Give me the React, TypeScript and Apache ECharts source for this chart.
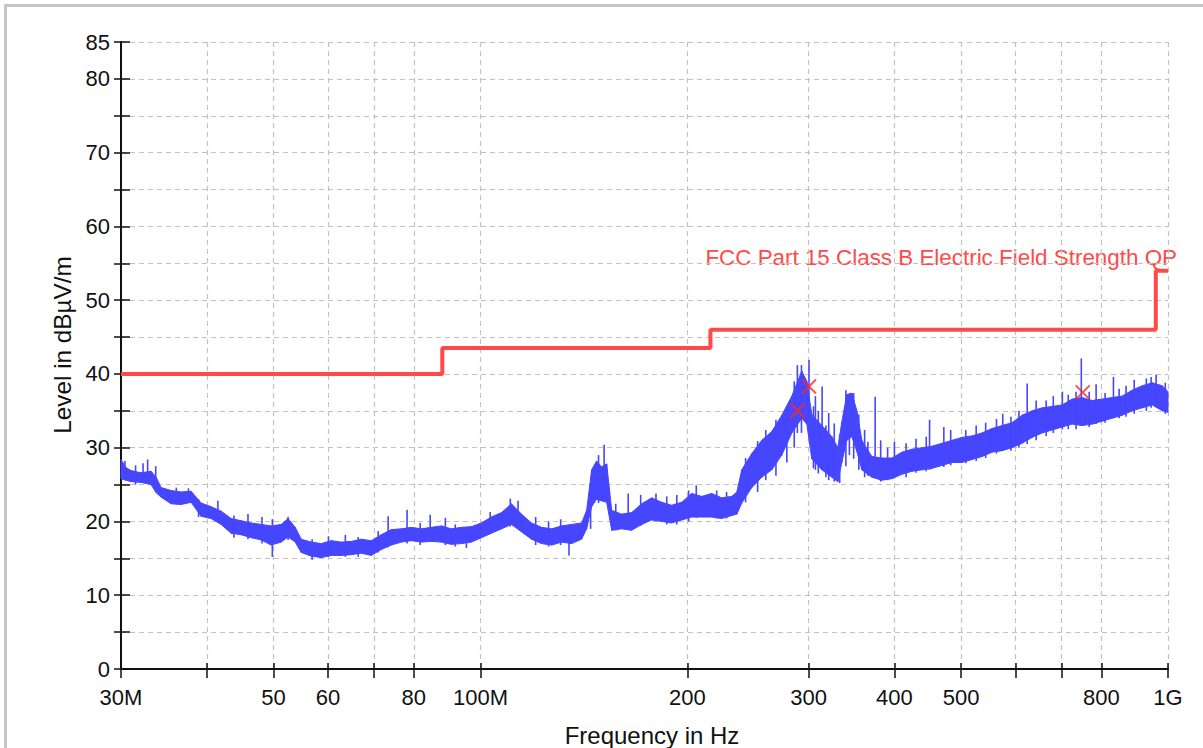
import React, { useEffect, useRef } from "react";
import * as echarts from "echarts";

// ---- Axis ticks / labels (MHz) ----
const xTickFreqs = [30, 40, 50, 60, 70, 80, 100, 200, 300, 400, 500, 600, 700, 800, 1000];
const xLabelFreqs = [30, 50, 60, 80, 100, 200, 300, 400, 500, 800, 1000];
const xLabelTexts = ["30M", "50", "60", "80", "100M", "200", "300", "400", "500", "800", "1G"];
const yLabelValues = [0, 10, 20, 30, 40, 50, 60, 70, 80, 85];

// ---- Measured trace envelope (MHz, dBµV/m) ----
const traceFreq = [
  30.0, 30.5, 31.02, 32.08, 33.18, 33.75, 34.31, 35.48, 36.69, 37.94, 39.23, 40.57, 41.95, 43.38, 44.86,
  46.39, 47.97, 49.61, 51.3, 52.5, 53.77, 54.86, 56.73, 58.66, 60.66, 62.73, 64.87, 67.08, 69.37, 71.73,
  74.18, 76.71, 79.32, 82.03, 84.82, 87.72, 90.71, 93.8, 97.0, 100.3, 103.7, 107.3, 110.9, 114.7, 118.6,
  122.7, 126.9, 131.2, 135.7, 140.3, 142.7, 145.1, 147.5, 150.0, 152.6, 155.2, 160.4, 165.9, 171.6, 177.4,
  183.5, 189.7, 196.2, 202.9, 209.8, 216.9, 224.3, 232.0, 236.0, 239.9, 248.1, 256.5, 265.3, 274.3, 283.7,
  293.3, 298.3, 303.3, 313.7, 324.4, 331.0, 335.4, 341.0, 346.9, 352.7, 358.7, 370.9, 383.6, 396.7, 410.2,
  424.2, 438.6, 453.6, 469.1, 485.1, 501.6, 518.7, 536.4, 554.7, 573.6, 593.2, 613.4, 634.3, 656.0, 678.3,
  701.5, 725.4, 750.1, 775.7, 802.2, 829.5, 857.8, 887.1, 917.3, 948.6, 981.0, 1000.0,
];
const traceHigh = [
  28.4, 27.3, 26.9, 26.6, 26.8, 26.0, 24.6, 24.2, 24.0, 24.1, 22.5, 22.0, 21.4, 20.4, 20.1,
  19.8, 19.6, 19.4, 19.6, 20.4, 19.2, 17.6, 17.2, 17.0, 17.4, 17.2, 17.3, 17.6, 17.4, 18.2,
  18.9, 19.0, 19.2, 19.0, 19.2, 19.4, 19.0, 19.2, 19.3, 19.8, 20.6, 21.2, 22.4, 21.0, 19.8,
  19.2, 19.0, 19.4, 19.6, 19.8, 21.5, 27.0, 28.2, 27.4, 27.8, 21.5, 21.0, 21.2, 22.4, 23.2,
  22.6, 22.2, 22.6, 23.8, 23.4, 23.8, 23.2, 23.4, 24.0, 27.0, 29.2, 31.0, 32.2, 34.4, 37.0,
  40.4, 39.0, 34.5, 33.0, 31.5, 30.0, 33.5, 37.2, 37.4, 35.0, 31.0, 28.8, 28.6, 28.6, 29.4,
  29.8, 30.0, 30.2, 30.6, 31.0, 31.4, 31.6, 32.0, 32.6, 33.0, 33.4, 34.4, 35.0, 35.4, 35.6,
  35.8, 36.6, 36.8, 36.4, 36.6, 36.8, 37.0, 37.8, 38.4, 38.8, 38.4, 37.6,
];
const traceLow = [
  25.8, 25.6, 25.4, 25.3, 25.0, 23.9, 23.3, 22.4, 22.3, 22.6, 20.7, 20.4, 19.6, 18.4, 18.2,
  17.8, 17.5, 16.8, 17.2, 17.9, 17.2, 15.8, 15.3, 15.1, 15.4, 15.4, 15.5, 15.7, 15.4, 16.2,
  16.8, 17.2, 17.4, 17.2, 17.3, 17.2, 16.9, 17.0, 17.2, 17.8, 18.4, 19.0, 19.6, 18.6, 17.6,
  17.0, 16.8, 17.2, 17.0, 17.6, 19.0, 22.0, 23.0, 22.8, 22.6, 18.8, 19.0, 18.8, 19.6, 20.2,
  20.0, 19.8, 20.2, 20.6, 20.6, 20.6, 20.4, 20.8, 21.0, 22.5, 24.6, 26.0, 27.0, 29.0, 32.0,
  34.0, 33.2, 28.5, 27.0, 26.0, 25.4, 28.0, 31.0, 31.5, 29.5, 27.0, 26.0, 25.6, 25.8, 26.4,
  26.8, 27.0, 27.2, 27.6, 28.0, 28.0, 28.4, 28.8, 29.4, 29.6, 30.0, 30.6, 31.4, 32.0, 32.4,
  32.8, 33.2, 33.0, 33.2, 33.6, 34.0, 34.4, 35.0, 35.4, 35.8, 35.0, 34.8,
];

// ---- Individual spikes of the trace (MHz, low, high) ----
const spikeFreq = [
  30.4, 31.5, 32.3, 32.8, 33.7, 36.1, 37.6, 38.9, 41.5, 43.8, 45.9, 48.1, 49.8, 52.5, 56.9, 60.1, 63.6,
  66.4, 71.0, 73.4, 78.2, 81.7, 84.5, 88.9, 91.9, 95.4, 103.3, 110.5, 113.4, 120.3, 125.6, 130.8, 134.5,
  144.6, 148.5, 151.3, 157.3, 164.0, 171.0, 180.0, 186.6, 193.0, 200.8, 206.0, 220.6, 228.0, 243.0, 253.0,
  260.0, 269.0, 279.0, 286.0, 289.0, 293.0, 300.5, 305.0, 307.0, 310.0, 314.0, 318.0, 321.0, 327.0, 333.0,
  340.0, 344.0, 349.0, 355.0, 362.0, 366.0, 375.0, 382.0, 391.0, 400.0, 416.0, 430.0, 445.0, 450.0, 472.0,
  483.0, 508.0, 526.0, 543.0, 563.0, 575.0, 591.0, 607.0, 624.0, 643.0, 665.0, 681.0, 702.0, 716.0, 735.0,
  748.0, 768.0, 786.0, 810.0, 833.0, 849.0, 869.0, 893.0, 930.0, 945.0, 961.0, 991.0,
];
const spikeLow = [
  25.6, 25.0, 25.2, 25.5, 24.0, 22.3, 22.5, 20.6, 20.0, 17.8, 17.6, 17.0, 15.2, 17.5, 14.8, 15.2, 15.2,
  15.2, 15.8, 16.5, 17.0, 16.8, 17.2, 16.8, 16.6, 16.4, 18.4, 19.3, 19.3, 16.8, 16.6, 16.8, 15.4,
  19.0, 22.5, 23.0, 18.8, 19.0, 19.4, 20.0, 19.6, 19.6, 20.0, 20.5, 20.4, 20.4, 22.6, 24.0,
  25.6, 26.2, 28.0, 30.0, 32.0, 32.0, 33.0, 27.2, 27.0, 26.5, 27.0, 26.0, 25.6, 25.4, 25.2,
  27.5, 29.0, 28.5, 27.0, 26.0, 26.2, 26.0, 25.4, 25.6, 26.0, 26.0, 26.6, 26.8, 27.0, 27.4,
  27.6, 27.9, 28.2, 28.6, 29.2, 29.6, 29.6, 30.0, 30.5, 31.0, 31.6, 32.0, 32.5, 32.5, 32.5,
  33.0, 32.8, 33.2, 33.4, 34.0, 34.0, 34.2, 34.6, 35.0, 35.4, 35.5, 34.6,
];
const spikeHigh = [
  28.2, 27.6, 27.9, 28.4, 27.5, 24.6, 24.5, 23.0, 22.8, 20.8, 21.0, 20.6, 20.3, 20.6, 17.6, 18.0, 18.2,
  17.9, 18.7, 20.7, 21.6, 19.8, 20.9, 20.5, 19.6, 19.2, 21.3, 23.1, 22.8, 20.6, 20.0, 20.3, 19.2,
  24.6, 29.0, 30.4, 22.4, 23.8, 23.6, 23.8, 23.4, 23.6, 24.2, 24.9, 24.2, 24.0, 28.6, 30.9,
  32.4, 33.8, 35.6, 39.0, 41.2, 41.2, 41.9, 35.6, 37.0, 35.0, 38.3, 33.0, 34.7, 33.3, 31.8,
  37.8, 36.4, 37.4, 34.5, 32.4, 30.8, 36.9, 31.0, 30.0, 30.8, 30.6, 31.2, 31.5, 33.8, 32.8,
  32.4, 32.4, 33.0, 33.4, 33.9, 34.6, 34.2, 35.0, 38.7, 36.4, 36.4, 37.0, 37.6, 37.2, 37.6,
  42.1, 37.6, 38.6, 37.4, 39.6, 38.0, 38.4, 39.2, 39.4, 39.6, 39.9, 38.8,
];

// ---- Limit line: FCC Part 15 Class B QP ----
const limitFreq = [30, 88, 88, 216, 216, 960, 960, 1000];
const limitLevel = [40, 40, 43.5, 43.5, 46, 46, 54, 54];
const limitName = "FCC Part 15 Class B Electric Field Strength QP";

// ---- Final measurement markers ----
const markerFreq = [289.3, 300.5, 751.5];
const markerLevel = [35.0, 38.3, 37.5];

const BLUE = "#4646ff";
const RED = "#ff4a4a";
const FONT = "'Liberation Sans', Arial, sans-serif";

const lx = (f: number) => Math.log10(f);
const X_MIN = Math.log10(30);
const X_MAX = Math.log10(1000);

export default function App() {
  const ref = useRef<HTMLDivElement>(null);

  useEffect(() => {
    if (!ref.current) return;
    const chart = echarts.init(ref.current, undefined, { renderer: "svg" });

    const tickVals = xTickFreqs.map(lx);
    const labelVals = xLabelFreqs.map(lx);
    const xFormatter = (v: number) => {
      for (let i = 0; i < labelVals.length; i++) {
        if (Math.abs(labelVals[i] - v) < 1e-6) return xLabelTexts[i];
      }
      return "";
    };
    const yFormatter = (v: number) => (yLabelValues.indexOf(v) >= 0 ? String(v) : "");

    // band segments between consecutive envelope samples
    const bandData = traceFreq.slice(0, -1).map((f, i) => [
      lx(f), traceLow[i], traceHigh[i], lx(traceFreq[i + 1]), traceLow[i + 1], traceHigh[i + 1],
    ]);

    const gridLine = { show: true, lineStyle: { color: "#c2c2c2", type: [5, 4], width: 1.2 } };

    const option: any = {
      animation: false,
      backgroundColor: "#ffffff",
      textStyle: { fontFamily: FONT },
      grid: { left: 121, right: 35, top: 42, bottom: 79, containLabel: false },
      xAxis: [
        {
          type: "value",
          min: X_MIN,
          max: X_MAX,
          position: "bottom",
          axisLine: { show: true, onZero: false, lineStyle: { color: "#111", width: 2 } },
          axisTick: { show: true, inside: false, length: 9, customValues: tickVals, lineStyle: { color: "#111", width: 1.5 } },
          axisLabel: { show: true, customValues: labelVals, formatter: xFormatter, fontSize: 22, color: "#111", margin: 17, fontFamily: FONT },
          splitLine: gridLine,
        },
        {
          type: "value",
          min: X_MIN,
          max: X_MAX,
          position: "bottom",
          axisLine: { show: false, onZero: false },
          axisTick: { show: true, inside: true, length: 6, customValues: tickVals, lineStyle: { color: "#111", width: 1.5 } },
          axisLabel: { show: false },
          splitLine: { show: false },
        },
      ],
      yAxis: [
        {
          type: "value",
          min: 0,
          max: 85,
          interval: 5,
          position: "left",
          axisLine: { show: true, onZero: false, lineStyle: { color: "#111", width: 2 } },
          axisTick: { show: true, inside: false, length: 7, lineStyle: { color: "#111", width: 1.5 } },
          axisLabel: { show: true, formatter: yFormatter, fontSize: 22, color: "#111", margin: 11, fontFamily: FONT },
          splitLine: gridLine,
        },
        {
          type: "value",
          min: 0,
          max: 85,
          interval: 5,
          position: "left",
          axisLine: { show: false, onZero: false },
          axisTick: { show: true, inside: true, length: 9, lineStyle: { color: "#111", width: 1.5 } },
          axisLabel: { show: false },
          splitLine: { show: false },
        },
      ],
      graphic: {
        elements: [
          {
            type: "rect",
            silent: true,
            shape: { x: 5.5, y: 5.5, width: 1400, height: 900 },
            style: { fill: "none", stroke: "#c6c6c6", lineWidth: 3 },
          },
          {
            type: "text",
            silent: true,
            x: 1177,
            y: 257,
            style: {
              text: limitName,
              fill: RED,
              font: `22.4px ${FONT}`,
              align: "right",
              verticalAlign: "middle",
            },
          },
          {
            type: "text",
            silent: true,
            x: 652,
            y: 735,
            style: {
              text: "Frequency in Hz",
              fill: "#111",
              font: `24px ${FONT}`,
              align: "center",
              verticalAlign: "middle",
            },
          },
          {
            type: "text",
            silent: true,
            x: 62,
            y: 345,
            rotation: Math.PI / 2,
            style: {
              text: "Level in dBµV/m",
              fill: "#111",
              font: `24.3px ${FONT}`,
              align: "center",
              verticalAlign: "middle",
            },
          },
        ],
      },
      series: [
        {
          type: "custom",
          name: "traceBand",
          xAxisIndex: 0,
          yAxisIndex: 0,
          encode: { x: [0, 3], y: [1, 2, 4, 5] },
          data: bandData,
          renderItem: (params: any, api: any) => {
            const a = api.coord([api.value(0), api.value(1)]);
            const b = api.coord([api.value(3), api.value(4)]);
            const c = api.coord([api.value(3), api.value(5)]);
            const d = api.coord([api.value(0), api.value(2)]);
            return {
              type: "polygon",
              shape: { points: [a, b, c, d] },
              style: { fill: BLUE, stroke: BLUE, lineWidth: 1 },
            };
          },
          z: 3,
        },
        {
          type: "custom",
          name: "spikes",
          xAxisIndex: 0,
          yAxisIndex: 0,
          encode: { x: 0, y: [1, 2] },
          data: spikeFreq.map((f, i) => [lx(f), spikeLow[i], spikeHigh[i]]),
          renderItem: (params: any, api: any) => {
            const p1 = api.coord([api.value(0), api.value(1)]);
            const p2 = api.coord([api.value(0), api.value(2)]);
            return {
              type: "line",
              shape: { x1: p1[0], y1: p1[1], x2: p2[0], y2: p2[1] },
              style: { stroke: BLUE, lineWidth: 1.6 },
            };
          },
          z: 4,
        },
        {
          type: "line",
          name: limitName,
          xAxisIndex: 0,
          yAxisIndex: 0,
          showSymbol: false,
          symbol: "none",
          lineStyle: { width: 4, color: RED },
          data: limitFreq.map((f, i) => [lx(f), limitLevel[i]]),
          z: 5,
        },
        {
          type: "scatter",
          name: "Final",
          xAxisIndex: 0,
          yAxisIndex: 0,
          symbol: "path://M0,0L10,10M10,0L0,10",
          symbolSize: 14,
          itemStyle: { color: "none", borderColor: "#ff2424", borderWidth: 2 },
          data: markerFreq.map((f, i) => [lx(f), markerLevel[i]]),
          z: 6,
        },
      ],
    };

    chart.setOption(option);
    return () => chart.dispose();
  }, []);

  return (
    <div
      ref={ref}
      style={{ position: "fixed", left: 0, top: 0, width: 1203, height: 748, background: "#fff" }}
    />
  );
}
